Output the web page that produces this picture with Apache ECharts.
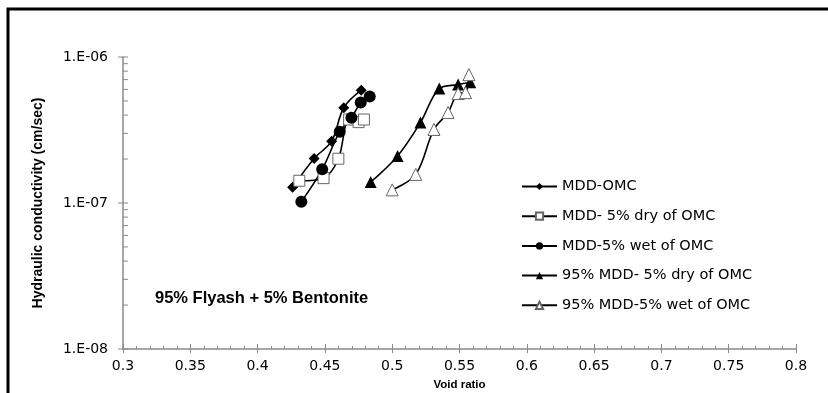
<!DOCTYPE html>
<html>
<head>
<meta charset="utf-8">
<script src="https://cdn.jsdelivr.net/npm/echarts@6/dist/echarts.min.js"></script>
<style>
  html, body { margin: 0; padding: 0; background: #fff; }
  #chart { width: 828px; height: 393px; }
</style>
</head>
<body>
<div id="chart"></div>
<script>
// Hydraulic conductivity vs void ratio, 95% Flyash + 5% Bentonite
const seriesNames = [
  'MDD-OMC',
  'MDD- 5% dry of OMC',
  'MDD-5% wet of OMC',
  '95% MDD- 5% dry of OMC',
  '95% MDD-5% wet of OMC'
];

const mddOmcVoid = [0.426, 0.442, 0.455, 0.464, 0.477];
const mddOmcK    = [1.28e-7, 2.02e-7, 2.65e-7, 4.49e-7, 5.92e-7];

const mddDryVoid = [0.431, 0.449, 0.460, 0.468, 0.475, 0.479];
const mddDryK    = [1.42e-7, 1.48e-7, 2.01e-7, 3.73e-7, 3.58e-7, 3.73e-7];

const mddWetVoid = [0.4325, 0.448, 0.461, 0.4697, 0.4766, 0.4833];
const mddWetK    = [1.02e-7, 1.70e-7, 3.08e-7, 3.83e-7, 4.88e-7, 5.36e-7];

const dry95Void  = [0.484, 0.504, 0.521, 0.535, 0.549, 0.558];
const dry95K     = [1.39e-7, 2.10e-7, 3.56e-7, 6.08e-7, 6.47e-7, 6.71e-7];

const wet95Void  = [0.500, 0.5175, 0.531, 0.5415, 0.549, 0.5545, 0.557];
const wet95K     = [1.23e-7, 1.57e-7, 3.19e-7, 4.17e-7, 5.62e-7, 5.70e-7, 7.57e-7];

// y-axis decades and the 2..9 minor ticks between them
const yMajorTicks = [1e-8, 1e-7, 1e-6];
const yMinorTicks = [
  2e-8, 3e-8, 4e-8, 5e-8, 6e-8, 7e-8, 8e-8, 9e-8,
  2e-7, 3e-7, 4e-7, 5e-7, 6e-7, 7e-7, 8e-7, 9e-7
];

const X_MIN = 0.3, X_MAX = 0.8;
const FONT = 'Liberation Sans, Arial, sans-serif';
const WIDE = 'DejaVu Sans, sans-serif';
const GREY = '#8a8a8a';

function pairs(xs, ys) { return xs.map((x, i) => [x, ys[i]]); }

function lineSeries(name, xs, ys, symbol, size, filled) {
  return {
    name: name,
    type: 'line',
    smooth: 0.35,
    data: pairs(xs, ys),
    symbol: symbol,
    symbolSize: size,
    showAllSymbol: true,
    lineStyle: { color: '#000', width: 1.6 },
    itemStyle: filled
      ? { color: '#000', borderColor: '#000', borderWidth: 0 }
      : { color: '#fff', borderColor: '#666', borderWidth: 1 },
    emphasis: { disabled: true },
    z: 3
  };
}

// inside-facing ticks on the log axis, placed through the axis scale
function yTickSeries(values, len, both) {
  return {
    type: 'custom',
    silent: true,
    clip: false,
    data: values.map(v => [X_MIN, v]),
    renderItem: function (params, api) {
      const p = api.coord([api.value(0), api.value(1)]);
      return {
        type: 'line',
        shape: { x1: both ? p[0] - len : p[0], y1: p[1], x2: p[0] + len, y2: p[1] },
        style: { stroke: GREY, lineWidth: 1 }
      };
    },
    z: 2
  };
}

const chart = echarts.init(document.getElementById('chart'));

chart.setOption({
  animation: false,
  backgroundColor: '#fff',
  title: {
    text: '95% Flyash + 5% Bentonite',
    left: 150,
    top: 285,
    textStyle: { fontFamily: FONT, fontSize: 16.5, fontWeight: 'bold', color: '#000' }
  },
  graphic: [{
    type: 'rect',
    shape: { x: 8, y: 9, width: 840, height: 400 },
    style: { fill: 'none', stroke: '#000', lineWidth: 3 },
    silent: true
  }],
  legend: {
    data: seriesNames,
    orient: 'vertical',
    left: 521,
    top: 179,
    padding: 0,
    itemWidth: 35,
    itemHeight: 9,
    itemGap: 14.7,
    textStyle: { fontFamily: WIDE, fontSize: 14.5, lineHeight: 15, color: '#000' }
  },
  grid: {
    left: 123, right: 32, top: 57, bottom: 44,
    containLabel: false,
    outerBoundsMode: 'none'
  },
  xAxis: [{
    type: 'value',
    min: X_MIN,
    max: X_MAX,
    interval: 0.05,
    name: 'Void ratio',
    nameLocation: 'middle',
    nameGap: 30,
    nameTextStyle: { fontFamily: FONT, fontSize: 11.5, fontWeight: 'bold', color: '#000' },
    axisLine: { show: true, lineStyle: { color: GREY, width: 1.5 } },
    axisTick: { show: true, inside: true, length: 5, lineStyle: { color: GREY } },
    minorTick: { show: true, splitNumber: 5, length: 3, lineStyle: { color: GREY } },
    axisLabel: { fontFamily: WIDE, fontSize: 14, color: '#000', margin: 10 },
    splitLine: { show: false }
  }, {
    type: 'value',
    min: X_MIN,
    max: X_MAX,
    interval: 0.05,
    position: 'bottom',
    axisLine: { show: false },
    axisTick: { show: true, inside: false, length: 4, lineStyle: { color: GREY } },
    axisLabel: { show: false },
    splitLine: { show: false }
  }],
  yAxis: {
    type: 'log',
    logBase: 10,
    min: 1e-8,
    max: 1e-6,
    name: 'Hydraulic conductivity (cm/sec)',
    nameLocation: 'middle',
    nameGap: 78,
    nameTextStyle: { fontFamily: FONT, fontSize: 14, fontWeight: 'bold', color: '#000' },
    axisLine: { show: true, lineStyle: { color: GREY, width: 1.5 } },
    axisTick: { show: false },
    axisLabel: {
      fontFamily: WIDE, fontSize: 14, color: '#000', margin: 15,
      formatter: function (v) {
        const e = Math.round(Math.log10(v));
        const a = Math.abs(e);
        return '1.E' + (e < 0 ? '-' : '+') + (a < 10 ? '0' : '') + a;
      }
    },
    splitLine: { show: false }
  },
  series: [
    lineSeries(seriesNames[0], mddOmcVoid, mddOmcK, 'diamond', 11, true),
    lineSeries(seriesNames[1], mddDryVoid, mddDryK, 'rect', 11, false),
    lineSeries(seriesNames[2], mddWetVoid, mddWetK, 'circle', 12, true),
    lineSeries(seriesNames[3], dry95Void, dry95K, 'triangle', 12, true),
    lineSeries(seriesNames[4], wet95Void, wet95K, 'triangle', 12, false),
    yTickSeries(yMajorTicks, 5, true),
    yTickSeries(yMinorTicks, 5, false)
  ]
});
</script>
</body>
</html>
